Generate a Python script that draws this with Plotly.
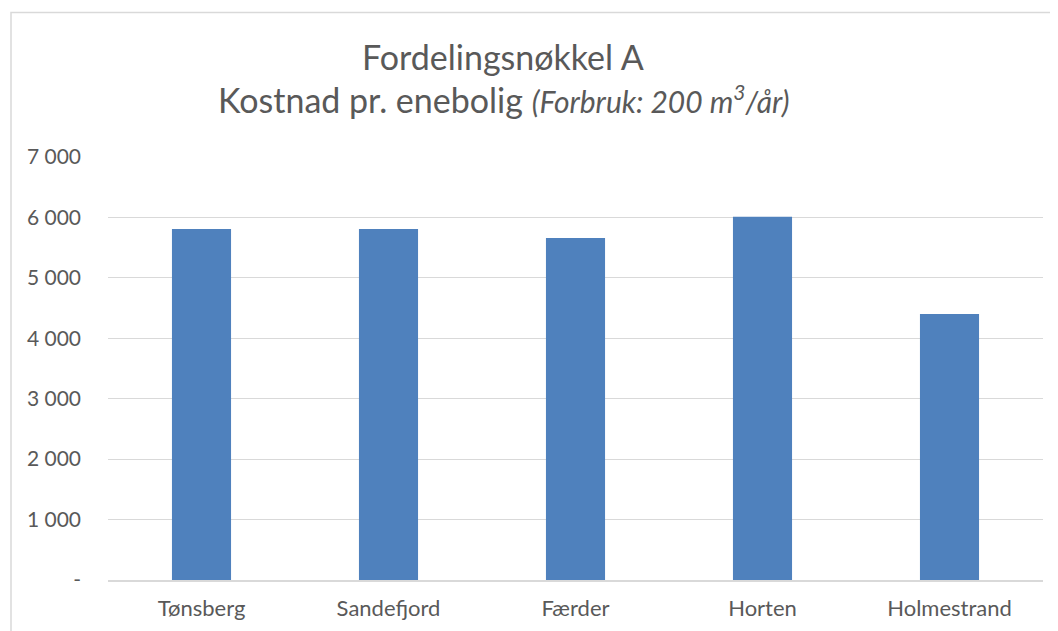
import plotly.graph_objects as go

categories = ["Tønsberg", "Sandefjord", "Færder", "Horten", "Holmestrand"]
values = [5810, 5810, 5660, 6010, 4400]
tick_vals = [0, 1000, 2000, 3000, 4000, 5000, 6000, 7000]
tick_text = ["-", "1 000", "2 000", "3 000", "4 000", "5 000", "6 000", "7 000"]

OFF = 8  # page body margin
W, H = 1058, 631
# target plot area in screen pixels
SL, SR, ST, SB = 108, 1043, 157, 580
L, T = SL - OFF, ST - OFF
R = W - (SR - OFF)
B = H - (SB - OFF)
pw, ph = SR - SL, SB - ST

def px(x):
    return (x - SL) / pw

def py(y):
    return (SB - y) / ph

fig = go.Figure(go.Bar(x=categories, y=values, marker_color="#4F81BD", marker_line_width=0))

fig.update_layout(
    width=W, height=H,
    margin=dict(l=L, r=R, t=T, b=B),
    plot_bgcolor="white", paper_bgcolor="white",
    bargap=0.684,
    showlegend=False,
    font=dict(family="Lato, Carlito, sans-serif", color="#595959", size=21),
    xaxis=dict(showgrid=False, showline=True, linecolor="#d9d9d9", linewidth=1.5,
               ticks="", ticklabelstandoff=8, tickfont=dict(size=22, color="#595959")),
    yaxis=dict(range=[0, 7000], tickvals=tick_vals, ticktext=tick_text,
               showgrid=True, gridcolor="#d9d9d9", gridwidth=1.2, zeroline=False,
               showline=False, ticks="", ticklabelstandoff=26,
               tickfont=dict(size=21, color="#595959")),
    shapes=[dict(type="rect", xref="paper", yref="paper",
                 x0=px(11), x1=px(1075), y0=py(12.5), y1=py(660),
                 line=dict(color="#d9d9d9", width=1.5), fillcolor="rgba(0,0,0,0)", layer="below")],
    annotations=[
        dict(text="Fordelingsnøkkel A", xref="paper", yref="paper", x=px(503), y=py(56),
             xanchor="center", yanchor="middle", showarrow=False,
             font=dict(size=34, color="#595959")),
        dict(text="Kostnad pr. enebolig <i><span style='font-size:30px'>(Forbruk: 200 m<sup>3</sup>/år)</span></i>",
             xref="paper", yref="paper", x=px(503), y=py(100),
             xanchor="center", yanchor="middle", showarrow=False,
             font=dict(size=34, color="#595959")),
    ],
)

fig.write_html("out.html")
